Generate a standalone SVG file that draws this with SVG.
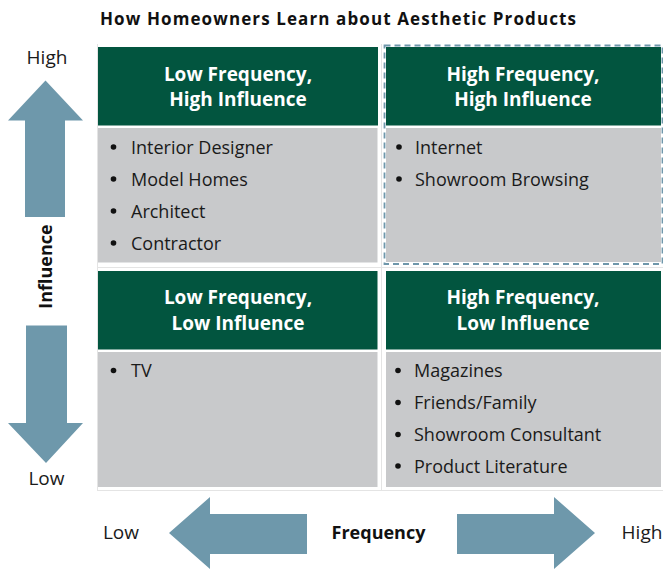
<svg xmlns="http://www.w3.org/2000/svg" width="663" height="569" viewBox="0 0 663 569">
  <style>
    .hdr { fill: #02553f; }
    .body { fill: #c8c9cb; }
    .grid { stroke: #e4e4e4; stroke-width: 1; fill: none; }
    .arrow { fill: #6e98ab; }
    .htxt { font-family: "Open Sans", "Liberation Sans", sans-serif; font-weight: bold; font-size: 19px; fill: #ffffff; text-anchor: middle; }
    .item { font-family: "Open Sans", "Liberation Sans", sans-serif; font-size: 18px; fill: #1a1a1a; }
    .axis { font-family: "Open Sans", "Liberation Sans", sans-serif; font-size: 19px; fill: #1a1a1a; }
    .axisb { font-family: "Open Sans", "Liberation Sans", sans-serif; font-size: 18px; font-weight: bold; fill: #111111; }
    .title { font-family: "Open Sans", "Liberation Sans", sans-serif; font-size: 17px; font-weight: bold; fill: #111111; }
    .dot { fill: #111111; }
    .focus { fill: none; stroke: #6f97ab; stroke-width: 1.8; stroke-dasharray: 6 4; }
  </style>

  <rect width="663" height="569" fill="#ffffff"/>

  <text class="title" x="100" y="25" textLength="476" lengthAdjust="spacing">How Homeowners Learn about Aesthetic Products</text>

  <!-- faint table rules behind the quadrants -->
  <g id="table-rules">
    <line class="grid" x1="97.5" y1="44" x2="97.5" y2="490"/>
    <line class="grid" x1="381.5" y1="44" x2="381.5" y2="490"/>
    <line class="grid" x1="97" y1="267.5" x2="663" y2="267.5"/>
    <line class="grid" x1="97" y1="490.5" x2="663" y2="490.5"/>
  </g>

  <!-- quadrant: low frequency, high influence -->
  <g id="q-low-freq-high-infl">
    <rect class="hdr" x="98" y="47" width="280" height="78.5"/>
    <rect class="body" x="98" y="128" width="279.5" height="134.5"/>
    <text class="htxt" x="238" y="81">Low Frequency,</text>
    <text class="htxt" x="238" y="106">High Influence</text>
    <circle class="dot" cx="113.5" cy="147" r="2.8"/>
    <text class="item" x="131" y="153.5">Interior Designer</text>
    <circle class="dot" cx="113.5" cy="179" r="2.8"/>
    <text class="item" x="131" y="185.5">Model Homes</text>
    <circle class="dot" cx="113.5" cy="211" r="2.8"/>
    <text class="item" x="131" y="217.5">Architect</text>
    <circle class="dot" cx="113.5" cy="243" r="2.8"/>
    <text class="item" x="131" y="249.5">Contractor</text>
  </g>

  <!-- quadrant: high frequency, high influence (highlighted) -->
  <g id="q-high-freq-high-infl">
    <rect class="hdr" x="386" y="47" width="275" height="78.5"/>
    <rect class="body" x="386" y="128" width="275" height="134"/>
    <rect class="focus" x="384.5" y="45.5" width="278" height="218.5"/>
    <text class="htxt" x="523" y="81">High Frequency,</text>
    <text class="htxt" x="523" y="106">High Influence</text>
    <circle class="dot" cx="399" cy="147" r="2.8"/>
    <text class="item" x="415" y="153.5">Internet</text>
    <circle class="dot" cx="399" cy="179" r="2.8"/>
    <text class="item" x="415" y="185.5">Showroom Browsing</text>
  </g>

  <!-- quadrant: low frequency, low influence -->
  <g id="q-low-freq-low-infl">
    <rect class="hdr" x="98" y="271" width="279.5" height="78.5"/>
    <rect class="body" x="98" y="352" width="279.5" height="135"/>
    <text class="htxt" x="238" y="304">Low Frequency,</text>
    <text class="htxt" x="238" y="330">Low Influence</text>
    <circle class="dot" cx="113.5" cy="370.5" r="2.8"/>
    <text class="item" x="131" y="377">TV</text>
  </g>

  <!-- quadrant: high frequency, low influence -->
  <g id="q-high-freq-low-infl">
    <rect class="hdr" x="386" y="271" width="275" height="78.5"/>
    <rect class="body" x="386" y="352" width="275" height="135"/>
    <text class="htxt" x="523" y="304">High Frequency,</text>
    <text class="htxt" x="523" y="330">Low Influence</text>
    <circle class="dot" cx="398" cy="370.5" r="2.8"/>
    <text class="item" x="414" y="377">Magazines</text>
    <circle class="dot" cx="398" cy="402.5" r="2.8"/>
    <text class="item" x="414" y="409">Friends/Family</text>
    <circle class="dot" cx="398" cy="434.5" r="2.8"/>
    <text class="item" x="414" y="441">Showroom Consultant</text>
    <circle class="dot" cx="398" cy="466" r="2.8"/>
    <text class="item" x="414" y="472.5">Product Literature</text>
  </g>

  <!-- axis arrows -->
  <g id="axes">
    <polygon class="arrow" points="45.5,80.5 83,120.5 65,120.5 65,217 25,217 25,120.5 8,120.5"/>
    <polygon class="arrow" points="26,325.5 67,325.5 67,423 83,423 46,463 8,423 26,423"/>
    <polygon class="arrow" points="169,533 210,497 210,514 307,514 307,554 210,554 210,569 169,533"/>
    <polygon class="arrow" points="457,514 554,514 554,497 595,533 554,569 554,554 457,554"/>
  </g>

  <!-- axis labels -->
  <g id="axis-labels">
    <text class="axis" x="47" y="64" text-anchor="middle">High</text>
    <text class="axis" x="46.5" y="485" text-anchor="middle">Low</text>
    <text class="axisb" transform="translate(52 266.5) rotate(-90)" text-anchor="middle">Influence</text>
    <text class="axis" x="121" y="539" text-anchor="middle">Low</text>
    <text class="axisb" x="378.5" y="539" text-anchor="middle">Frequency</text>
    <text class="axis" x="642" y="539" text-anchor="middle">High</text>
  </g>
</svg>
